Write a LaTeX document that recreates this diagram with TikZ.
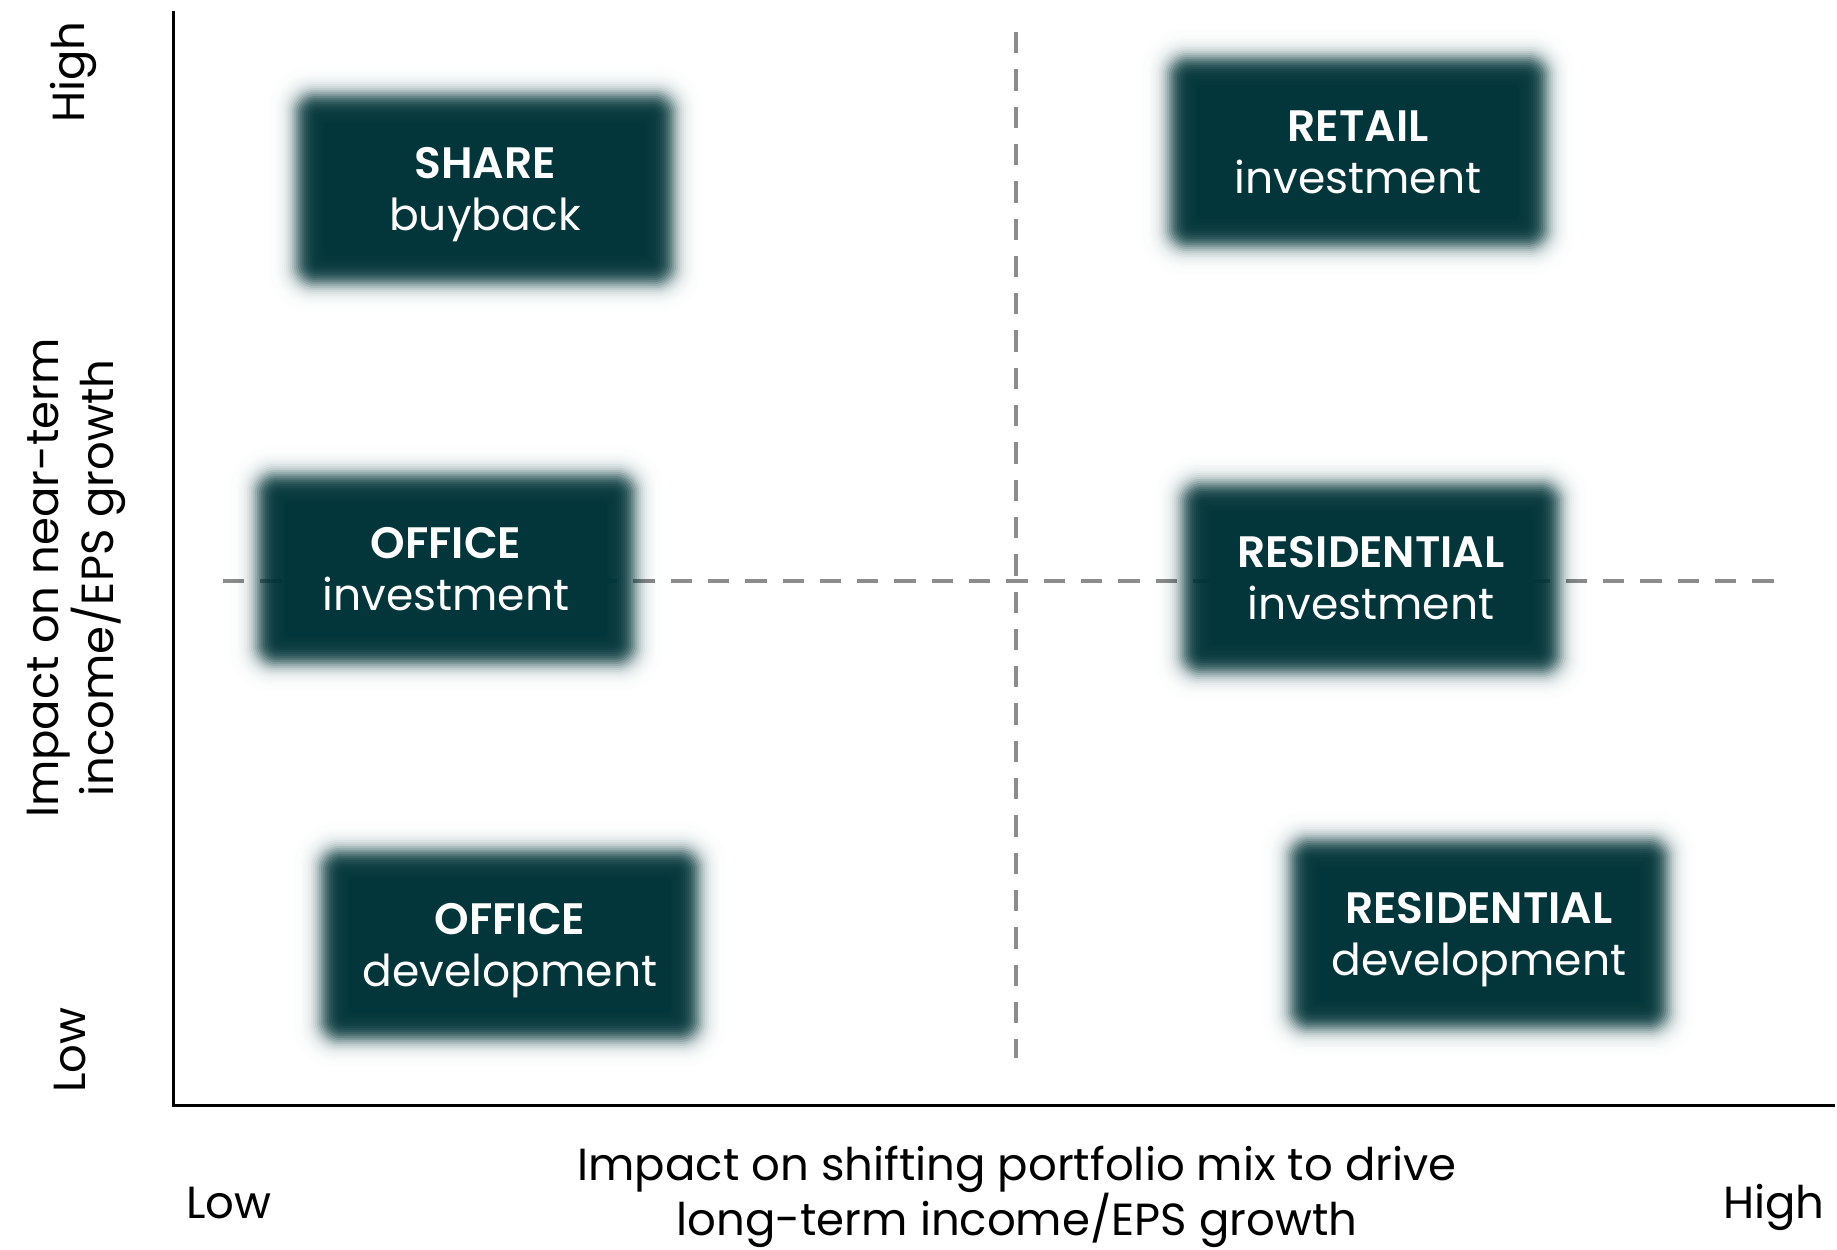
\documentclass[tikz,border=0pt]{standalone}
\usepackage{fontspec}
\setmainfont{Poppins}[BoldFont={Poppins SemiBold}]
\usetikzlibrary{calc}
\definecolor{cardteal}{HTML}{03363A}
\definecolor{guidegray}{HTML}{8C8C8C}
\pgfdeclarelayer{background}
\pgfsetlayers{background,main}

\begin{document}
\begin{tikzpicture}[x=1pt,y=-1pt,
  card/.style={minimum width=378pt,minimum height=190pt,inner sep=0pt,
    text depth=0pt,text=white,align=center,font=\fontsize{44}{52}\selectfont},
  axislabel/.style={font=\fontsize{45}{52}\selectfont,align=center,inner sep=0pt},
  guide/.style={guidegray,line width=4.5pt,dash pattern=on 21.3pt off 16pt},
  axisline/.style={black,line width=3pt}]
\useasboundingbox (0,0) rectangle (1837,1250);

% axes
\coordinate (ytop) at (173,11);
\coordinate (origin) at (173,1105);
\coordinate (xend) at (1835,1105);
\draw[axisline] (ytop) -- (origin) -- (xend);

% quadrant guides, kept under the cards
\coordinate (vtop) at (1016,32);
\coordinate (vbot) at (1016,1058);
\coordinate (hleft) at (223,581);
\coordinate (hright) at (1775,581);
\begin{pgfonlayer}{background}
  \draw[guide] (vtop) -- (vbot);
  \draw[guide] (hleft) -- (hright);
\end{pgfonlayer}

% cards
\node[card] (share)  at (485,189)  {\textbf{SHARE}\\buyback};
\node[card] (retail) at (1358,152) {\textbf{RETAIL}\\investment};
\node[card] (offinv) at (446,569)  {\textbf{OFFICE}\\investment};
\node[card] (resinv) at (1371,578) {\textbf{RESIDENTIAL}\\investment};
\node[card] (offdev) at (510,945)  {\textbf{OFFICE}\\development};
\node[card] (resdev) at (1479,934) {\textbf{RESIDENTIAL}\\development};

% soft-edged card fills: stacked layers whose opacities build a
% logistic (near-Gaussian) falloff across the card border
\begin{pgfonlayer}{background}
\foreach \n in {share,retail,offinv,resinv,offdev,resdev}{
  \foreach \k in {1,...,29}{
    \pgfmathsetmacro\e{30-2*\k}
    \pgfmathsetmacro\cb{\k==29 ? 1 : 1/(1+exp(1.702*\e/9))}
    \pgfmathsetmacro\ca{\k==1 ? 0 : 1/(1+exp(1.702*(\e+2)/9))}
    \pgfmathsetmacro\a{\k==29 ? 1 : 1-(1-\cb)/(1-\ca)}
    \pgfmathsetmacro\r{max(4,20+0.8*\e)}
    \fill[cardteal,opacity=\a,rounded corners=\r pt]
      ([xshift=-\e pt,yshift=-\e pt]\n.south west) rectangle
      ([xshift=\e pt,yshift=\e pt]\n.north east);
  }
}
\end{pgfonlayer}

% axis labels
\node[axislabel,rotate=90,anchor=base] (yhigh) at (84,72) {High};
\node[axislabel,rotate=90,anchor=base] (ylow) at (85,1050) {Low};
\node[axislabel,rotate=90] (ytitle) at (76,578) {Impact on near-term\\income/EPS growth};
\node[axislabel,anchor=base] (xlow) at (229,1218) {Low};
\node[axislabel,anchor=base] (xhigh) at (1774,1218) {High};
\node[axislabel] (xtitle) at (1017,1197) {Impact on shifting portfolio mix to drive\\long-term income/EPS growth};
\end{tikzpicture}
\end{document}
